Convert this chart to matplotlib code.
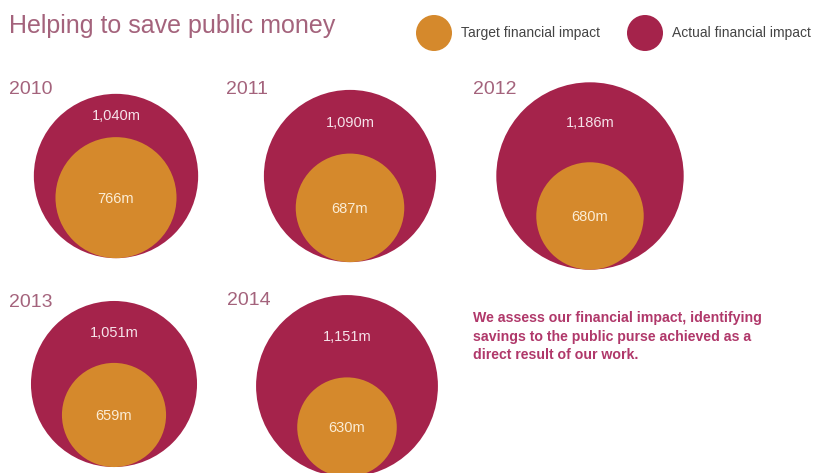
import matplotlib
matplotlib.use("Agg")
import matplotlib.pyplot as plt
from matplotlib.patches import Circle

# financial impact per year, in £ millions
years = ["2010", "2011", "2012", "2013", "2014"]
target = [766, 687, 680, 659, 630]
actual = [1040, 1090, 1186, 1051, 1151]

RED = "#a5234b"
ORANGE = "#d5892c"
MAUVE = "#a4637c"
TEXT_PINK = "#b0386a"

# layout in pixel units (817 x 473 canvas)
centres = [(116, 176), (350, 176), (590, 176), (114, 384), (347, 386)]
year_pos = [(9, 90), (226, 90), (473, 90), (9, 302), (227, 300)]
px_per_m = 0.079  # circle radius per £m

plt.rcParams['font.family'] = ['Liberation Sans', 'DejaVu Sans']

fig = plt.figure(figsize=(8.17, 4.73), dpi=100)
ax = fig.add_axes([0, 0, 1, 1])
ax.set_xlim(0, 817)
ax.set_ylim(473, 0)
ax.set_aspect('equal')
ax.axis('off')

for yr, tgt, act, (cx, cy), (yx, yy) in zip(years, target, actual, centres, year_pos):
    R = act * px_per_m
    r = tgt * px_per_m
    ax.add_patch(Circle((cx, cy), R, color=RED, lw=0))
    # inner circle sits on the bottom of the outer one
    icy = cy + R - r
    ax.add_patch(Circle((cx, icy), r, color=ORANGE, lw=0))
    outer_top = cy - R
    inner_top = icy - r
    ax.text(cx, (outer_top + inner_top) / 2 + 1, f"{act:,}m", color="#f6e3ea",
            fontsize=10.5, ha='center', va='center')
    ax.text(cx, icy + 1, f"{tgt}m", color="#fbedd6", fontsize=10.5,
            ha='center', va='center')
    ax.text(yx, yy, yr, color=MAUVE, fontsize=14, ha='left', va='center')

ax.text(9, 26, "Helping to save public money", color=MAUVE, fontsize=18,
        ha='left', va='center')

# legend
ax.add_patch(Circle((434, 33), 18, color=ORANGE, lw=0))
ax.text(461, 33, "Target financial impact", color="#444444", fontsize=10,
        ha='left', va='center')
ax.add_patch(Circle((645, 33), 18, color=RED, lw=0))
ax.text(672, 33, "Actual financial impact", color="#444444", fontsize=10,
        ha='left', va='center')

ax.text(473, 311, "We assess our financial impact, identifying\n"
        "savings to the public purse achieved as a\n"
        "direct result of our work.", color=TEXT_PINK, fontsize=10.2,
        fontweight='bold', ha='left', va='top', linespacing=1.42)

fig.savefig("out.png", dpi=100, facecolor='white')
